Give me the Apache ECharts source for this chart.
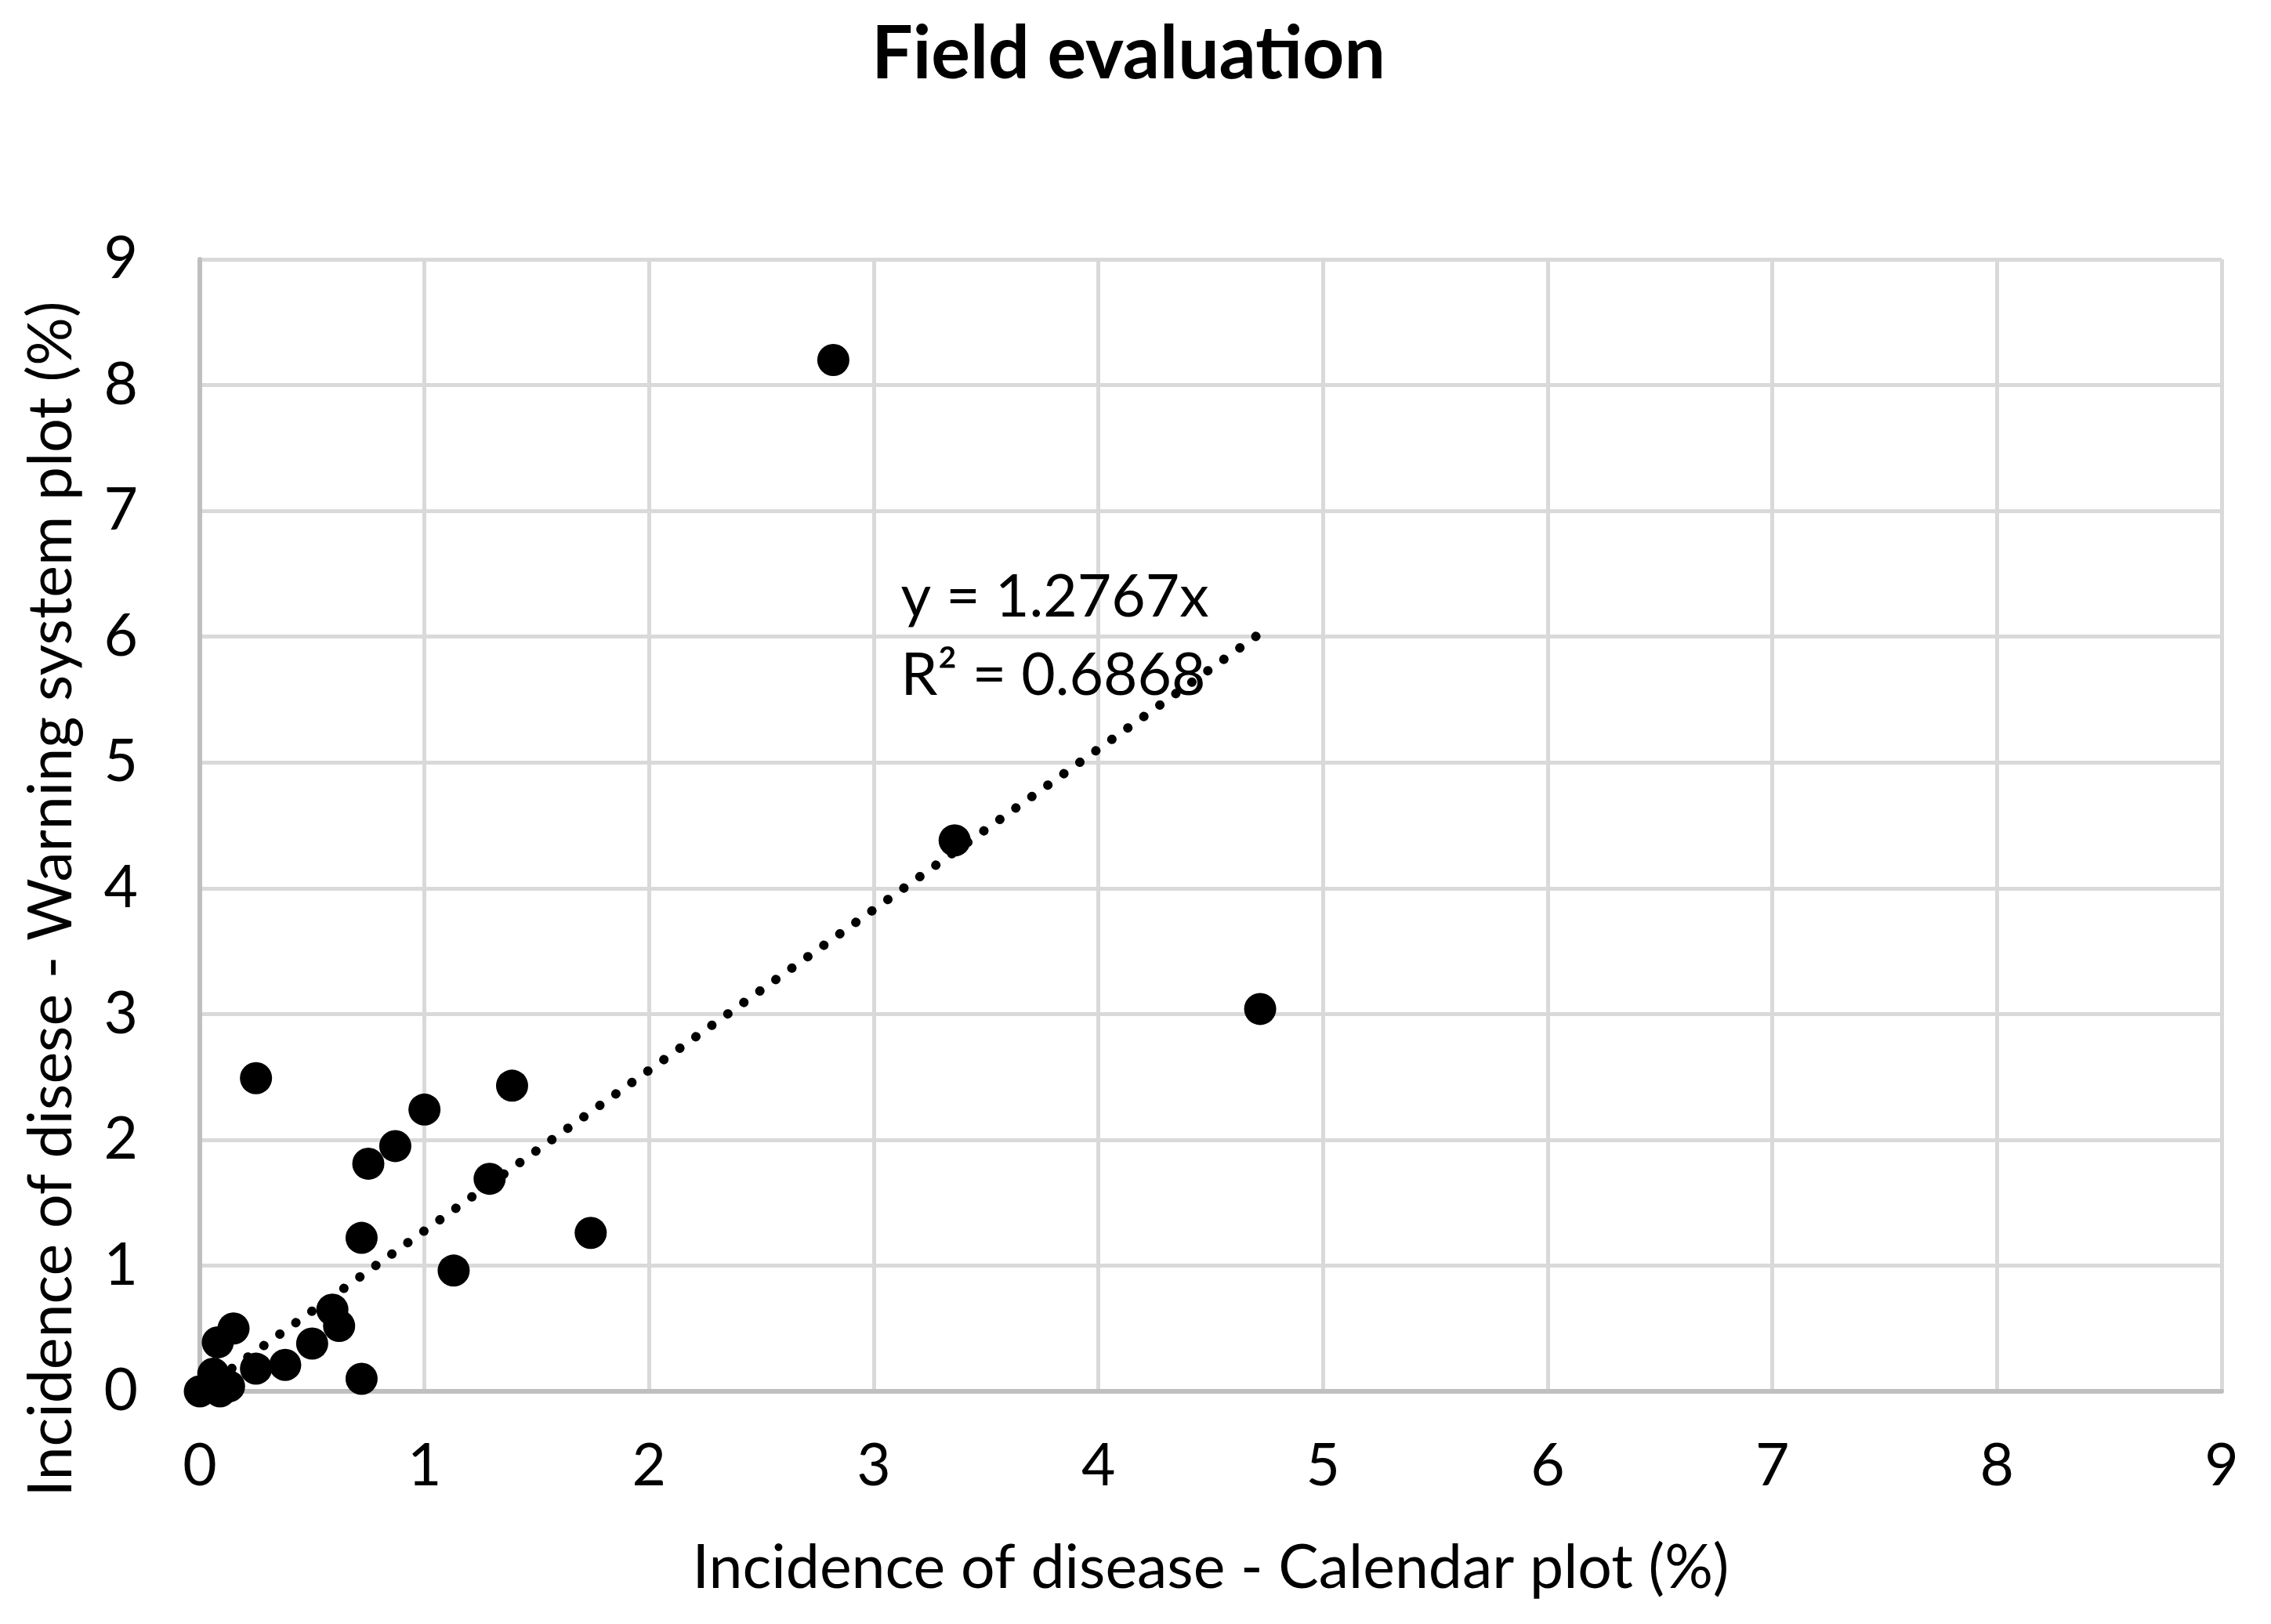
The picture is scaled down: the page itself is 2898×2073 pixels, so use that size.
<!DOCTYPE html>
<html>
<head>
<meta charset="utf-8">
<script src="https://cdn.jsdelivr.net/npm/echarts@6/dist/echarts.min.js"></script>
<style>
html,body{margin:0;padding:0;background:#fff;}
#c{width:2898px;height:2073px;}
</style>
</head>
<body>
<div id="c"></div>
<script>
// Data
var calendarX = [2.82, 3.36, 4.72, 0.25, 1.39, 1.00, 0.87, 0.75, 1.29, 1.74, 0.72, 1.13, 0.59, 0.62, 0.50, 0.38, 0.25, 0.72, 0.15, 0.08, 0.06, 0.13, 0.09, 0.00];
var warningY  = [8.20, 4.38, 3.04, 2.49, 2.43, 2.24, 1.95, 1.81, 1.69, 1.26, 1.22, 0.96, 0.65, 0.52, 0.38, 0.21, 0.18, 0.10, 0.50, 0.39, 0.14, 0.04, 0.00, 0.00];
var trendSlope = 1.2767;
var trendR2 = 0.6868;
var axisTicks = [0, 1, 2, 3, 4, 5, 6, 7, 8, 9];

var points = calendarX.map(function (x, i) { return [x, warningY[i]]; });
var xMin = Math.min.apply(null, calendarX), xMax = Math.max.apply(null, calendarX);
var trend = [[xMin, trendSlope * xMin], [xMax, trendSlope * xMax]];

var FONT = 'Lato';
var chart = echarts.init(document.getElementById('c'), null, {renderer: 'canvas'});
chart.setOption({
  backgroundColor: '#ffffff',
  animation: false,
  title: {
    text: 'Field evaluation',
    left: 1435, top: 18, textAlign: 'center',
    textStyle: {fontFamily: FONT, fontWeight: 'bold', fontSize: 93, color: '#000'}
  },
  grid: {left: 255, right: 63, top: 331, bottom: 297, containLabel: false},
  xAxis: {
    type: 'value', min: 0, max: 9, interval: 1,
    name: 'Incidence of disease - Calendar plot (%)',
    nameLocation: 'middle', nameGap: 188,
    nameTextStyle: {fontFamily: FONT, fontSize: 77, color: '#000'},
    axisLine: {show: true, onZero: false, lineStyle: {color: '#bfbfbf', width: 6}},
    axisTick: {show: false},
    splitLine: {show: true, lineStyle: {color: '#d9d9d9', width: 5}},
    axisLabel: {fontFamily: FONT, fontSize: 75, color: '#000', margin: 58,
      formatter: function (v) { return axisTicks.indexOf(v) >= 0 ? String(v) : ''; }}
  },
  yAxis: {
    type: 'value', min: 0, max: 9, interval: 1,
    name: 'Incidence of disese - Warning system plot (%)',
    nameLocation: 'middle', nameGap: 150, nameRotate: 90,
    nameTextStyle: {fontFamily: FONT, fontSize: 77, color: '#000', padding: [0, 188, 0, 0]},
    axisLine: {show: true, onZero: false, lineStyle: {color: '#bfbfbf', width: 6}},
    axisTick: {show: false},
    splitLine: {show: true, lineStyle: {color: '#d9d9d9', width: 5}},
    axisLabel: {fontFamily: FONT, fontSize: 75, color: '#000', margin: 79,
      formatter: function (v) { return axisTicks.indexOf(v) >= 0 ? String(v) : ''; }}
  },
  series: [
    {
      type: 'scatter', name: 'Field evaluation',
      data: points, symbol: 'circle', symbolSize: 41,
      itemStyle: {color: '#000', opacity: 1},
      z: 2
    },
    {
      type: 'line', name: 'Linear trend',
      data: trend, showSymbol: false, symbol: 'none',
      lineStyle: {color: '#000', width: 12, type: [0.1, 25], cap: 'round'},
      z: 3,
      markPoint: {
        symbol: 'circle', symbolSize: 0,
        itemStyle: {color: 'rgba(0,0,0,0)'},
        label: {
          show: true, position: [0, 0], align: 'left', verticalAlign: 'middle',
          fontFamily: FONT, fontSize: 75, lineHeight: 100, color: '#000',
          formatter: 'y = ' + trendSlope + 'x\nR² = ' + trendR2
        },
        data: [{coord: [3.12, 6.0]}]
      }
    }
  ]
});
</script>
</body>
</html>
